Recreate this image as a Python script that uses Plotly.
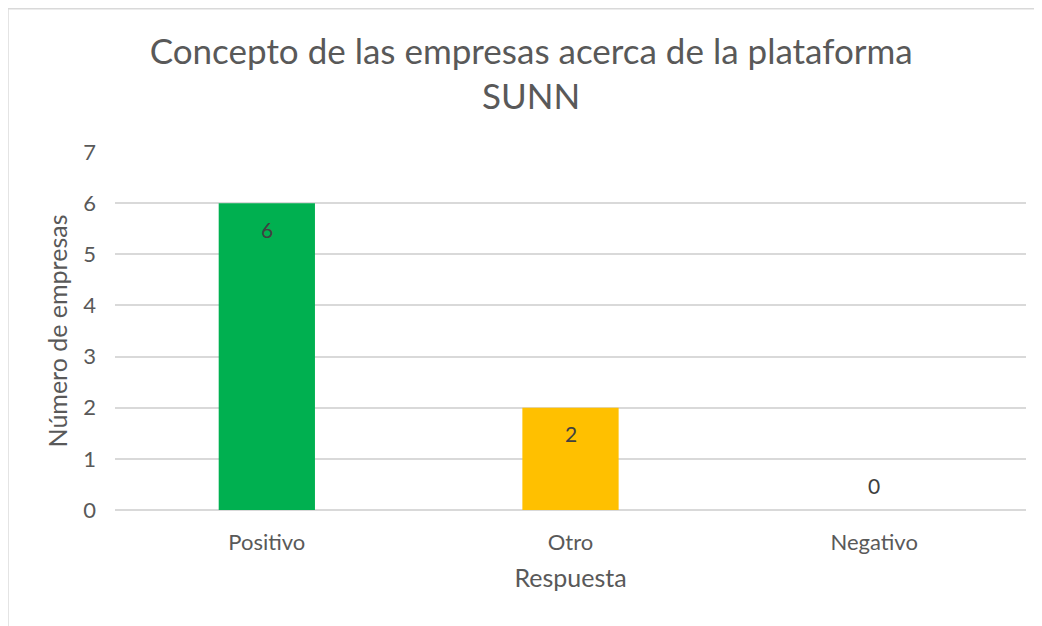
import plotly.graph_objects as go

categories = ["Positivo", "Otro", "Negativo"]
values = [6, 2, 0]
colors = ["#00B050", "#FFC000", "#A5A5A5"]
y_ticks = [0, 1, 2, 3, 4, 5, 6, 7]

title_text = "Concepto de las empresas acerca de la plataforma<br>SUNN"
x_title = "Respuesta"
y_title = "Número de empresas"

FONT = "Lato"
GREY = "#595959"

fig = go.Figure()
fig.add_trace(go.Bar(
    x=categories, y=values, marker=dict(color=colors, line=dict(width=0)),
    hoverinfo="skip",
))

for c, v in zip(categories, values):
    fig.add_annotation(
        x=c, y=v, text=str(v), showarrow=False,
        yshift=-26 if v > 0 else 25,
        font=dict(family=FONT, size=21, color="#404040"),
    )

# chart-area border: only its top and left edges fall inside the picture
border = dict(color="#D9D9D9", width=1.5)
fig.add_shape(type="line", xref="paper", yref="paper",
              x0=-0.1175, x1=1.05, y0=1.4, y1=1.4, line=border, layer="below")
fig.add_shape(type="line", xref="paper", yref="paper",
              x0=-0.1175, x1=-0.1175, y0=-0.4, y1=1.4, line=border, layer="below")

fig.update_layout(
    width=1034, height=618,
    margin=dict(l=107, r=16, t=144, b=116),
    paper_bgcolor="white", plot_bgcolor="white",
    bargap=0.683,
    showlegend=False,
    font=dict(family=FONT, color=GREY),
    title=dict(text=title_text, x=0.506, xanchor="center", y=0.910, yanchor="middle",
               font=dict(family=FONT, size=35, color=GREY)),
    xaxis=dict(showgrid=False, showline=False, zeroline=False,
               tickfont=dict(family=FONT, size=22, color=GREY),
               ticklabelstandoff=17,
               title=dict(text=x_title, font=dict(family=FONT, size=25, color=GREY), standoff=15)),
    yaxis=dict(range=[0, 7], tickvals=y_ticks, showgrid=True, gridcolor="#D9D9D9", gridwidth=1.5,
               zeroline=True, zerolinecolor="#D9D9D9", zerolinewidth=1.5, showline=False,
               tickfont=dict(family=FONT, size=22, color=GREY),
               ticklabelstandoff=18,
               title=dict(text=y_title, font=dict(family=FONT, size=25, color=GREY), standoff=8)),
)

fig.write_html("out.html", config={"displayModeBar": False})
